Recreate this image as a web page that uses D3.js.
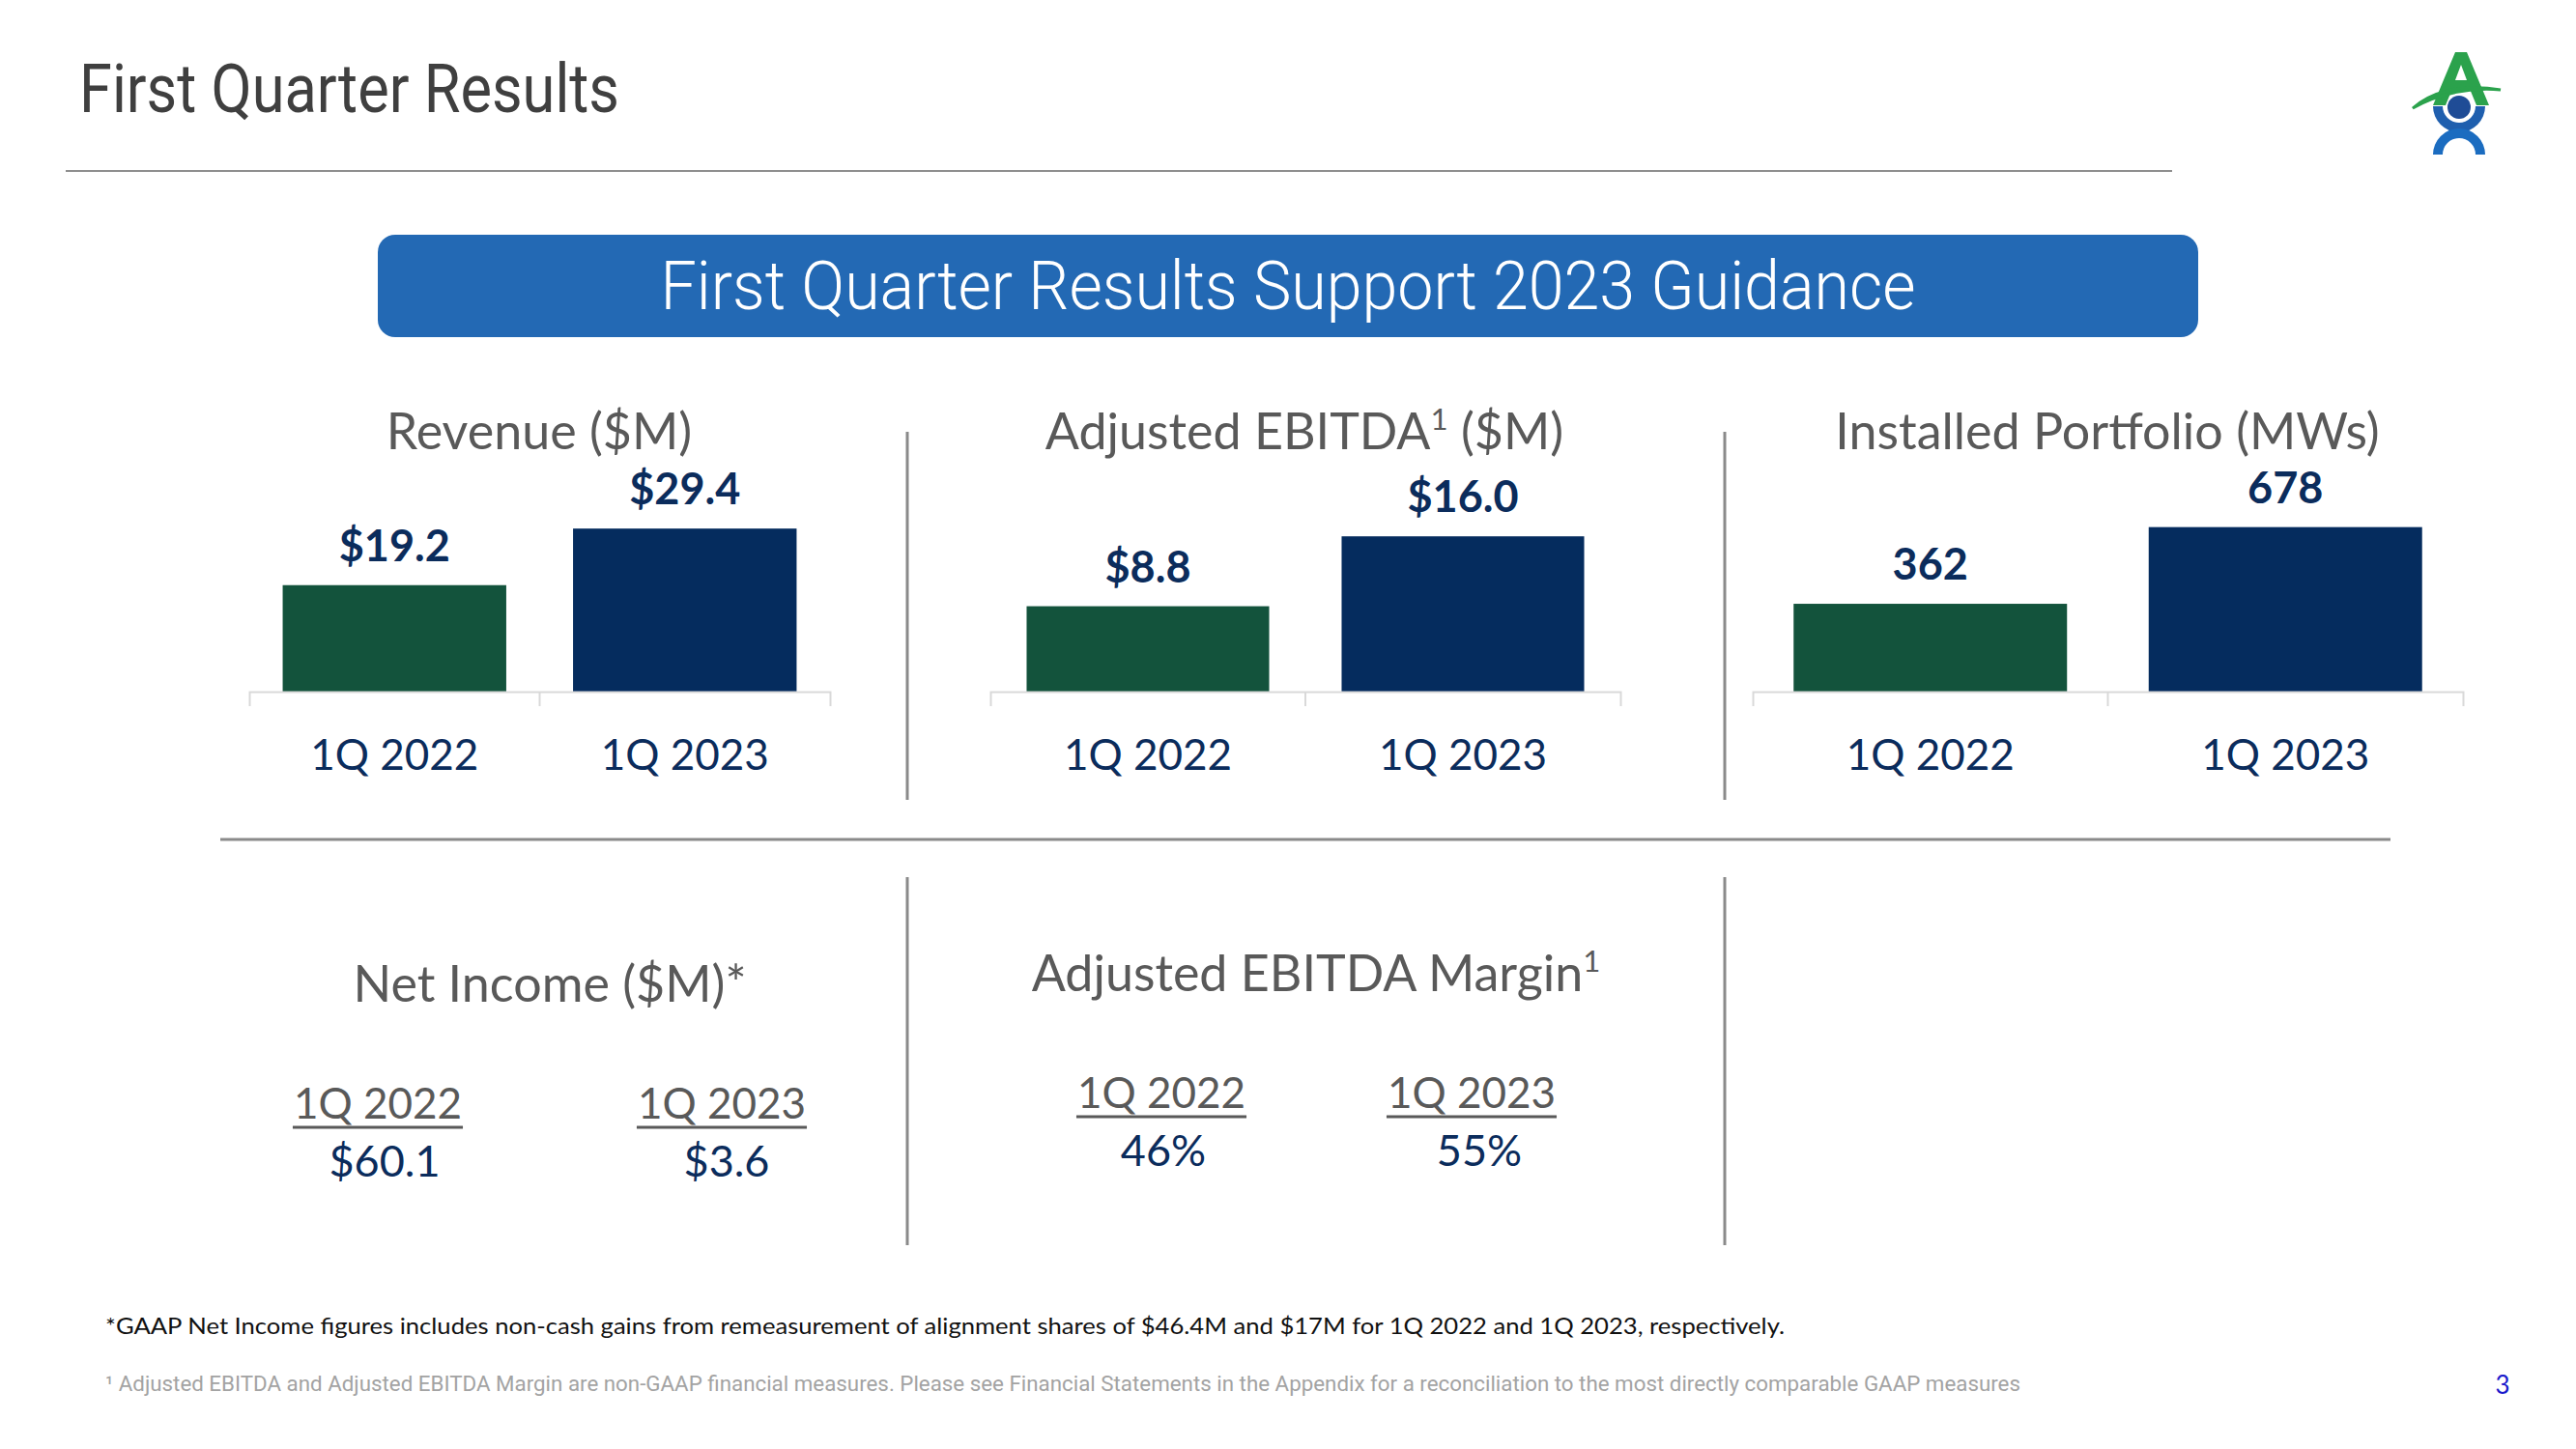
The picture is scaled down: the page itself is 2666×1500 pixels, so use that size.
<!DOCTYPE html>
<html><head><meta charset="utf-8">
<script src="https://cdn.jsdelivr.net/npm/d3@7"></script>
<style>html,body{margin:0;padding:0;background:#fff;}svg{display:block;}</style>
</head><body>
<script>
// ---- data ----
const categories = ["1Q 2022", "1Q 2023"];
const revenue = [19.2, 29.4];
const revenueLabels = ["$19.2", "$29.4"];
const ebitda = [8.8, 16.0];
const ebitdaLabels = ["$8.8", "$16.0"];
const portfolio = [362, 678];
const portfolioLabels = ["362", "678"];
const axisMax = [35, 20, 800];
const netIncomeLabels = ["$60.1", "$3.6"];
const marginLabels = ["46%", "55%"];
const pageTitle = "First Quarter Results";
const bannerText = "First Quarter Results Support 2023 Guidance";
const footnote1 = "*GAAP Net Income figures includes non-cash gains from remeasurement of alignment shares of $46.4M and $17M for 1Q 2022 and 1Q 2023, respectively.";
const footnote2 = "\u00B9 Adjusted EBITDA and Adjusted EBITDA Margin are non-GAAP financial measures. Please see Financial Statements in the Appendix for a reconciliation to the most directly comparable GAAP measures";

const W = 2666, H = 1500;
const GREEN = "#13533c", NAVY = "#052c5e", TXT = "#0b2c5c", GREY = "#595959";
const barColors = [GREEN, NAVY];
const CAL = "Lato, 'Open Sans', sans-serif";
const ROB = "Roboto, 'Liberation Sans', sans-serif";

const svg = d3.select("body").append("svg").attr("width", W).attr("height", H);
svg.append("rect").attr("width", W).attr("height", H).attr("fill", "#fff");

// header
svg.append("text").attr("x", 82).attr("y", 116).attr("font-family", ROB).attr("font-size", 70)
  .attr("fill", "#3f3f3f").attr("textLength", 559).attr("lengthAdjust", "spacingAndGlyphs").text(pageTitle);
svg.append("line").attr("x1", 68).attr("x2", 2248).attr("y1", 177).attr("y2", 177)
  .attr("stroke", "#8f8f8f").attr("stroke-width", 2);

// logo
const logo = svg.append("g");
logo.append("path").attr("d", "M2518,109 L2541,54 L2553,54 L2576,109 L2563,109 L2556,92 L2538,92 L2531,109 Z M2541,83 L2553,83 L2547,67 Z").attr("fill", "#2ba24c").attr("fill-rule", "evenodd");
logo.append("path").attr("d", "M2497,112 C2515,96 2545,86 2588,93 C2560,90 2525,96 2497,112 Z").attr("fill", "#2ba24c").attr("stroke", "#2ba24c").attr("stroke-width", 3);
const cx = 2545;
logo.append("path").attr("d", d3.arc()({innerRadius: 17, outerRadius: 27, startAngle: Math.PI/2, endAngle: Math.PI*1.5}))
  .attr("transform", `translate(${cx},110)`).attr("fill", "#1f5fae");
logo.append("path").attr("d", d3.arc()({innerRadius: 17, outerRadius: 27, startAngle: -Math.PI/2, endAngle: Math.PI/2}))
  .attr("transform", `translate(${cx},160)`).attr("fill", "#1b6cc0");
logo.append("circle").attr("cx", cx).attr("cy", 111).attr("r", 12).attr("fill", "#1f4c96");

// banner
svg.append("rect").attr("x", 391).attr("y", 243).attr("width", 1884).attr("height", 106).attr("rx", 18)
  .attr("fill", "#2369b4");
svg.append("text").attr("x", 1333).attr("y", 320).attr("text-anchor", "middle").attr("font-family", ROB)
  .attr("font-weight", 300).attr("font-size", 70).attr("fill", "#fff")
  .attr("textLength", 1299).attr("lengthAdjust", "spacingAndGlyphs").text(bannerText);

// panels
const panels = [
  {title: [["Revenue ($M)", false]], tx: 558, x0: 258, x1: 859, vals: revenue, labels: revenueLabels, max: axisMax[0]},
  {title: [["Adjusted EBITDA", false], ["1", true], [" ($M)", false]], tx: 1350, x0: 1025, x1: 1677, vals: ebitda, labels: ebitdaLabels, max: axisMax[1]},
  {title: [["Installed Portfolio (MWs)", false]], tx: 2181, x0: 1814, x1: 2549, vals: portfolio, labels: portfolioLabels, max: axisMax[2]}
];
const baseY = 716, topY = 515;

function titleText(g, parts, x, y, size) {
  const t = g.append("text").attr("x", x).attr("y", y).attr("text-anchor", "middle")
    .attr("font-family", CAL).attr("font-size", size).attr("fill", GREY);
  parts.forEach(([s, sup]) => {
    const ts = t.append("tspan").text(s);
    if (sup) ts.attr("font-size", size * 0.6).attr("dy", -size * 0.38);
    else if (t.selectAll("tspan").size() > 1) ts.attr("dy", size * 0.38);
  });
  return t;
}

panels.forEach(p => {
  const g = svg.append("g");
  const x = d3.scaleBand().domain(categories).range([p.x0, p.x1]);
  const y = d3.scaleLinear().domain([0, p.max]).range([baseY, topY]);
  const bw = x.bandwidth() * 0.77;
  titleText(g, p.title, p.tx, 465, 52);

  g.selectAll("rect.bar").data(p.vals).join("rect").attr("class", "bar")
    .attr("x", (d, i) => x(categories[i]) + (x.bandwidth() - bw) / 2)
    .attr("y", d => y(d)).attr("width", bw).attr("height", d => baseY - y(d))
    .attr("fill", (d, i) => barColors[i]);

  g.selectAll("text.val").data(p.vals).join("text").attr("class", "val")
    .attr("x", (d, i) => x(categories[i]) + x.bandwidth() / 2)
    .attr("y", d => y(d) - 25).attr("text-anchor", "middle")
    .attr("font-family", CAL).attr("font-weight", 700).attr("font-size", 45).attr("fill", TXT)
    .text((d, i) => p.labels[i]);

  const axis = d3.axisBottom(x).tickSize(0).tickSizeOuter(15).tickPadding(0);
  const ag = g.append("g").attr("transform", `translate(0,${baseY})`).call(axis);
  ag.select(".domain").attr("stroke", "#d9d9d9").attr("stroke-width", 2);
  ag.selectAll(".tick text").attr("font-family", CAL).attr("font-size", 44).attr("fill", TXT)
    .attr("dy", null).attr("y", 81);
  g.append("line").attr("x1", x(categories[1])).attr("x2", x(categories[1]))
    .attr("y1", baseY).attr("y2", baseY + 15).attr("stroke", "#d9d9d9").attr("stroke-width", 2);
});

// dividers
const DIV = "#8a8a8a";
[[939, 447, 828], [1785, 447, 828], [939, 908, 1289], [1785, 908, 1289]].forEach(([xx, a, b]) =>
  svg.append("line").attr("x1", xx).attr("x2", xx).attr("y1", a).attr("y2", b).attr("stroke", DIV).attr("stroke-width", 3));
svg.append("line").attr("x1", 228).attr("x2", 2474).attr("y1", 869).attr("y2", 869).attr("stroke", DIV).attr("stroke-width", 3);

// lower KPI blocks
function kpi(title, tx, ty, cols, headY, valY, vals) {
  const g = svg.append("g");
  titleText(g, title, tx, ty, 52);
  cols.forEach((c, i) => {
    const t = g.append("text").attr("x", c[0]).attr("y", headY).attr("text-anchor", "middle")
      .attr("font-family", CAL).attr("font-size", 44).attr("fill", GREY).text(categories[i]);
    const w = t.node().getComputedTextLength();
    g.append("line").attr("x1", c[0] - w / 2 - 1).attr("x2", c[0] + w / 2 + 1)
      .attr("y1", headY + 9).attr("y2", headY + 9).attr("stroke", GREY).attr("stroke-width", 3);
    g.append("text").attr("x", c[1]).attr("y", valY).attr("text-anchor", "middle")
      .attr("font-family", CAL).attr("font-size", 45).attr("fill", TXT).text(vals[i]);
  });
}
kpi([["Net Income ($M)*", false]], 569, 1037, [[391, 398], [747, 752]], 1158, 1218, netIncomeLabels);
kpi([["Adjusted EBITDA Margin", false], ["1", true]], 1362, 1026, [[1202, 1204], [1523, 1531]], 1147, 1207, marginLabels);

// footnotes
svg.append("text").attr("x", 109).attr("y", 1381).attr("font-family", CAL).attr("font-size", 24)
  .attr("fill", "#111").attr("textLength", 1738).attr("lengthAdjust", "spacingAndGlyphs").text(footnote1);
svg.append("text").attr("x", 109).attr("y", 1440).attr("font-family", ROB).attr("font-size", 22)
  .attr("fill", "#a3a3a3").attr("textLength", 1982).attr("lengthAdjust", "spacingAndGlyphs").text(footnote2);
svg.append("text").attr("x", 2590).attr("y", 1443).attr("text-anchor", "middle").attr("font-family", CAL)
  .attr("font-size", 26).attr("fill", "#1a1acc").text("3");
</script>
</body></html>
